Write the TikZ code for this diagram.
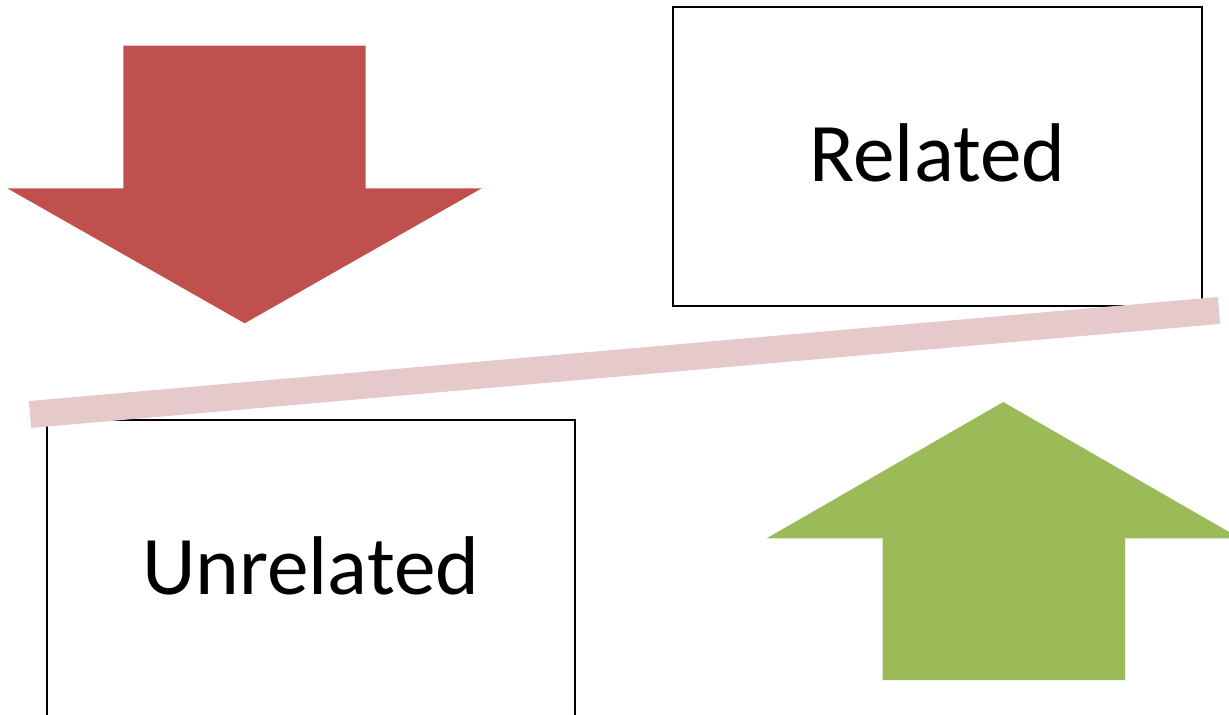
\documentclass[tikz,border=0pt]{standalone}
\usepackage{fontspec}
\setmainfont{Carlito}
\usepackage{tikz}
\usetikzlibrary{positioning}

\definecolor{downred}{HTML}{C0504D}
\definecolor{upgreen}{HTML}{9BBB59}
\definecolor{divpink}{RGB}{230,202,203}

\begin{document}
\begin{tikzpicture}[x=0.01cm, y=-0.01cm,
    block/.style={rectangle, draw=black, line width=0.6pt, minimum width=5.28cm, minimum height=2.98cm, inner sep=0pt, text depth=0.07cm, font=\fontsize{23.7}{28}\selectfont},
    divider/.style={draw=divpink, line width=0.27cm},
    downarrow/.style={fill=downred},
    uparrow/.style={fill=upgreen}]
    \useasboundingbox (0,0) rectangle (1229,715);

    % the two boxes
    \node [block] (rel) at (937.5,156.5) {Related};
    \node [block] (unrel) at (310.75,569) {Unrelated};

    % slanted divider between them
    \coordinate (divl) at (30,414.5);
    \coordinate (divr) at (1219,310.5);
    \path [divider] (divl) -- (divr);

    % big block arrows
    \path [downarrow] (123.3,45.7) -- (365.7,45.7) -- (365.7,188.3) -- (481.7,188.3)
        -- (244.7,323.3) -- (7.3,188.3) -- (123.3,188.3) -- cycle;
    \path [uparrow] (1003.3,402) -- (1240,538.3) -- (1125,538.3) -- (1125,680)
        -- (882.7,680) -- (882.7,538.3) -- (766.7,538.3) -- cycle;
\end{tikzpicture}
\end{document}
